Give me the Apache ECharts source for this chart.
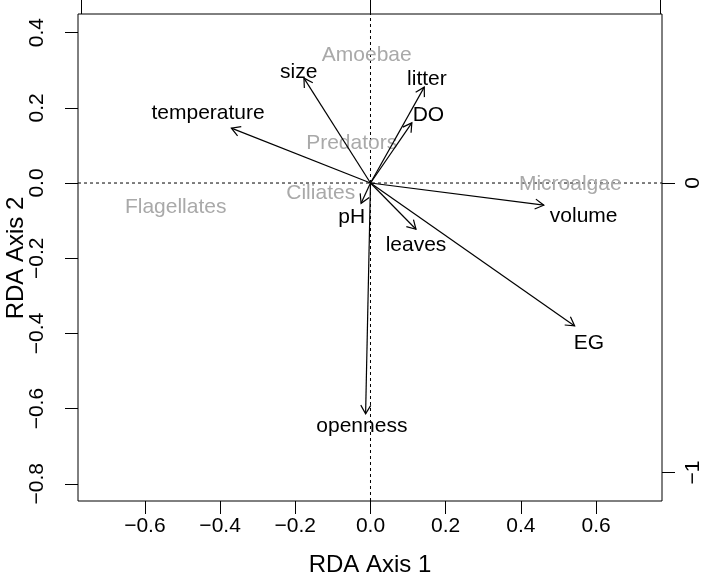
<!DOCTYPE html>
<html><head><meta charset="utf-8">
<script src="https://cdn.jsdelivr.net/npm/echarts@6/dist/echarts.min.js"></script>
<style>html,body{margin:0;padding:0;background:#fff}#c{width:709px;height:582px}</style>
</head><body><div id="c"></div>
<script>
// Environmental variables (biplot arrows), RDA axis 1 / axis 2 scale
const envNames = ['temperature','size','litter','DO','volume','EG','leaves','pH','openness'];
const envX = [-0.370,-0.177,0.143,0.110,0.461,0.543,0.121,-0.025,-0.013];
const envY = [0.146,0.279,0.255,0.160,-0.059,-0.380,-0.123,-0.054,-0.614];
const envLabelX = [-0.432,-0.191,0.150,0.154,0.567,0.581,0.121,-0.050,-0.023];
const envLabelY = [0.185,0.296,0.276,0.181,-0.088,-0.426,-0.165,-0.092,-0.646];
// Species scores (secondary top/right axes)
const spNames = ['Amoebae','Predators','Ciliates','Flagellates','Microalgae'];
const spX = [-0.013,-0.065,-0.172,-0.673,0.690];
const spY = [0.443,0.137,-0.034,-0.084,-0.003];
// Ticks
const xTicks = [-0.6,-0.4,-0.2,0,0.2,0.4,0.6];
const yTicks = [-0.8,-0.6,-0.4,-0.2,0,0.2,0.4];
const topTicks = [-1,0,1];
const rightTicks = [-1,0];

const FONT = '"Liberation Sans", Arial, sans-serif';
const X_MIN = -0.7779, X_MAX = 0.7753, Y_MIN = -0.8457, Y_MAX = 0.4495;
const X2_MIN = -1.0104, X2_MAX = 1.0069, Y2_MIN = -1.0984, Y2_MAX = 0.5838;

const minus = s => String(s).replace('-', '\u2212');
const fmt1 = v => minus(Number(v).toFixed(1));
const fmt0 = v => minus(Number(v).toFixed(0));

const chart = echarts.init(document.getElementById('c'), null, {renderer:'canvas'});

function arrowItem(params, api) {
  const p0 = api.coord([0, 0]);
  const p1 = api.coord([api.value(0), api.value(1)]);
  const a = Math.atan2(p1[1]-p0[1], p1[0]-p0[0]);
  const L = 10, th = Math.PI/6;
  const h1 = [p1[0] - L*Math.cos(a - th), p1[1] - L*Math.sin(a - th)];
  const h2 = [p1[0] - L*Math.cos(a + th), p1[1] - L*Math.sin(a + th)];
  const st = {stroke:'#000', lineWidth:1.2, fill:null};
  return {type:'group', children:[
    {type:'line', shape:{x1:p0[0], y1:p0[1], x2:p1[0], y2:p1[1]}, style:st},
    {type:'polyline', shape:{points:[h1, p1, h2]}, style:st}
  ]};
}
function textItemFactory(names, color) {
  return function(params, api) {
    const p = api.coord([api.value(0), api.value(1)]);
    return {type:'text', x:p[0], y:p[1], style:{text:names[params.dataIndex], fill:color,
      fontSize:21, fontFamily:FONT, align:'center', verticalAlign:'middle'}};
  };
}
const tickStyle = {color:'#000', width:1};

const option = {
  animation:false,
  backgroundColor:'#fff',
  grid:{left:78, right:47, top:14, bottom:81, containLabel:false, outerBoundsMode:'none',
        show:true, borderColor:'#000', borderWidth:1, backgroundColor:'transparent'},
  graphic:[
    {type:'text', x:16, y:258, rotation:Math.PI/2,
     style:{text:'RDA Axis 2', fill:'#000', fontSize:24, fontFamily:FONT, align:'center', verticalAlign:'middle'}}
  ],
  xAxis:[
    {type:'value', position:'bottom', min:X_MIN, max:X_MAX,
     axisLine:{show:false, onZero:false}, splitLine:{show:false},
     axisTick:{show:true, customValues:xTicks, length:13, lineStyle:tickStyle},
     axisLabel:{show:true, customValues:xTicks, formatter:fmt1, color:'#000', fontSize:21, fontFamily:FONT, margin:15},
     name:'RDA Axis 1', nameLocation:'middle', nameGap:52,
     nameTextStyle:{color:'#000', fontSize:24, fontFamily:FONT}},
    {type:'value', position:'top', min:X2_MIN, max:X2_MAX,
     axisLine:{show:false, onZero:false}, splitLine:{show:false},
     axisTick:{show:true, customValues:topTicks, length:14, lineStyle:tickStyle},
     axisLabel:{show:false, customValues:topTicks}}
  ],
  yAxis:[
    {type:'value', position:'left', min:Y_MIN, max:Y_MAX,
     axisLine:{show:false, onZero:false}, splitLine:{show:false},
     axisTick:{show:true, customValues:yTicks, length:13, lineStyle:tickStyle},
     axisLabel:{show:true, customValues:yTicks, formatter:fmt1, rotate:90, color:'#000', fontSize:21, fontFamily:FONT, margin:30}},
    {type:'value', position:'right', min:Y2_MIN, max:Y2_MAX,
     axisLine:{show:false, onZero:false}, splitLine:{show:false},
     axisTick:{show:true, customValues:rightTicks, length:13, lineStyle:tickStyle},
     axisLabel:{show:true, customValues:rightTicks, formatter:fmt0, rotate:90, color:'#000', fontSize:21, fontFamily:FONT, margin:21}}
  ],
  series:[
    {type:'line', xAxisIndex:0, yAxisIndex:0, silent:true, symbol:'none', z:1,
     data:[[X_MIN,0],[X_MAX,0]], lineStyle:{color:'#000', width:1, type:[3,3]}},
    {type:'line', xAxisIndex:0, yAxisIndex:0, silent:true, symbol:'none', z:1,
     data:[[0,Y_MIN],[0,Y_MAX]], lineStyle:{color:'#000', width:1, type:[3,3]}},
    {type:'custom', xAxisIndex:1, yAxisIndex:1, silent:true, z:2,
     renderItem:textItemFactory(spNames, '#a9a9a9'),
     data:spX.map((x,i)=>[x, spY[i]])},
    {type:'custom', xAxisIndex:0, yAxisIndex:0, silent:true, z:3,
     renderItem:arrowItem,
     data:envX.map((x,i)=>[x, envY[i]])},
    {type:'custom', xAxisIndex:0, yAxisIndex:0, silent:true, z:4,
     renderItem:textItemFactory(envNames, '#000'),
     data:envLabelX.map((x,i)=>[x, envLabelY[i]])}
  ]
};
chart.setOption(option);
</script>
</body></html>
